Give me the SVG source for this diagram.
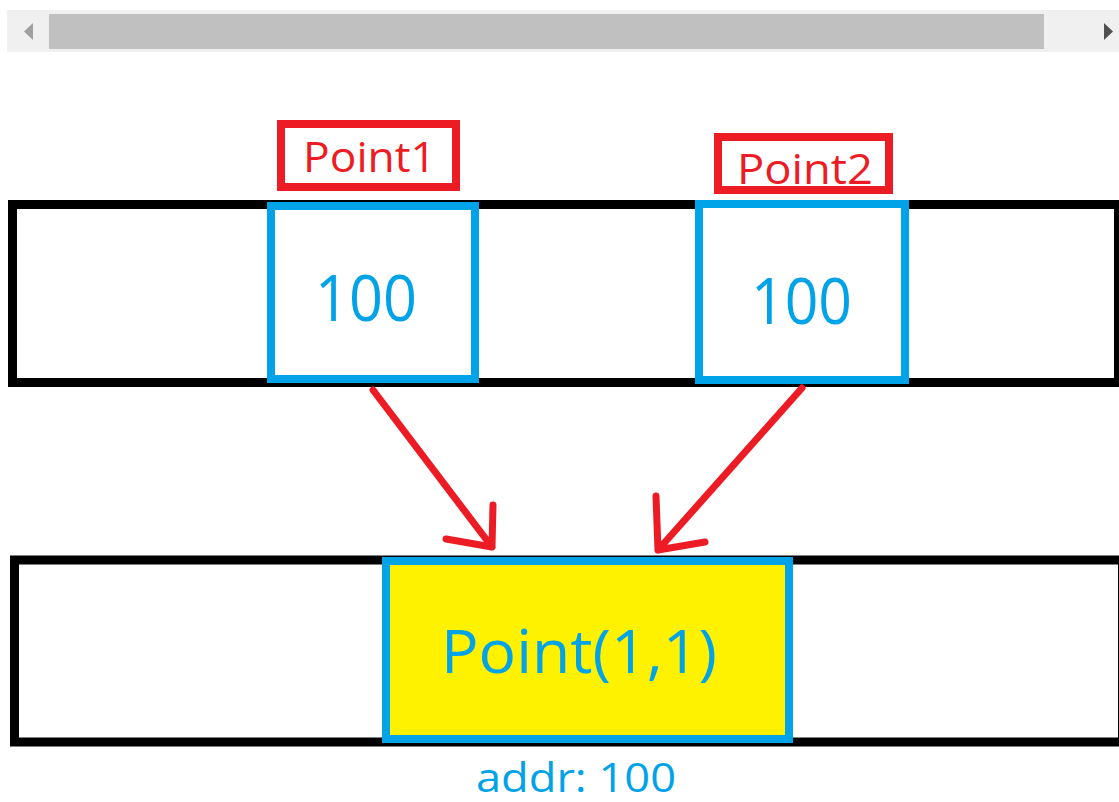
<svg xmlns="http://www.w3.org/2000/svg" width="1119" height="802" viewBox="0 0 1119 802">
<style>
.mem{fill:#fff;stroke:#000;stroke-width:9}
.cell{fill:#fff;stroke:#00a2e8;stroke-width:8}
.obj{fill:#fff200;stroke:#00a2e8;stroke-width:8}
.lbl{fill:#fff;stroke:#ed1c24;stroke-width:8}
.t{font-family:"Open Sans","Noto Sans","Liberation Sans",sans-serif}
.red{fill:#ed1c24}
.blue{fill:#00a2e8}
.arr{fill:none;stroke:#ed1c24;stroke-width:7;stroke-linecap:round;stroke-linejoin:round}
</style>
<rect width="1119" height="802" fill="#fff"/>
<g id="scrollbar">
<rect x="7" y="10" width="1112" height="42" fill="#f0f0f0"/>
<rect x="49" y="14" width="995" height="35" fill="#c0c0c0"/>
<polygon points="33,23 33,40 24,31.5" fill="#a0a0a0"/>
<polygon points="1104,23 1104,40 1113,31.5" fill="#505050"/>
</g>
<g id="memory-top"><rect class="mem" x="12.5" y="204.5" width="1106" height="178"/></g>
<g id="memory-bottom"><rect class="mem" x="14.5" y="560" width="1108" height="182"/></g>
<g id="point1-cell">
<rect class="cell" x="271" y="206" width="204" height="173"/>
<text class="t blue" x="315" y="321" font-size="64" textLength="102" lengthAdjust="spacingAndGlyphs">100</text>
</g>
<g id="point2-cell">
<rect class="cell" x="699" y="204" width="206" height="176"/>
<text class="t blue" x="751" y="324" font-size="64" textLength="101" lengthAdjust="spacingAndGlyphs">100</text>
</g>
<g id="point1-label">
<rect class="lbl" x="281" y="124" width="175" height="63"/>
<text class="t red" x="303" y="172" font-size="42" textLength="133" lengthAdjust="spacingAndGlyphs">Point1</text>
</g>
<g id="point2-label">
<rect class="lbl" x="718" y="137" width="171" height="53"/>
<text class="t red" x="737" y="184" font-size="42" textLength="136" lengthAdjust="spacingAndGlyphs">Point2</text>
</g>
<g id="point-object">
<rect class="obj" x="386" y="561" width="403" height="178"/>
<text class="t blue" x="441" y="673" font-size="60" textLength="276" lengthAdjust="spacingAndGlyphs">Point(1,1)</text>
<text class="t blue" x="476" y="792" font-size="40" textLength="200" lengthAdjust="spacingAndGlyphs">addr: 100</text>
</g>
<g id="connectors">
<path class="arr" d="M373,390 L492,547 M493,505 L492,547 L446,539"/>
<path class="arr" d="M802,388 L658,550 M656,496 L658,550 L705,542"/>
</g>
</svg>
